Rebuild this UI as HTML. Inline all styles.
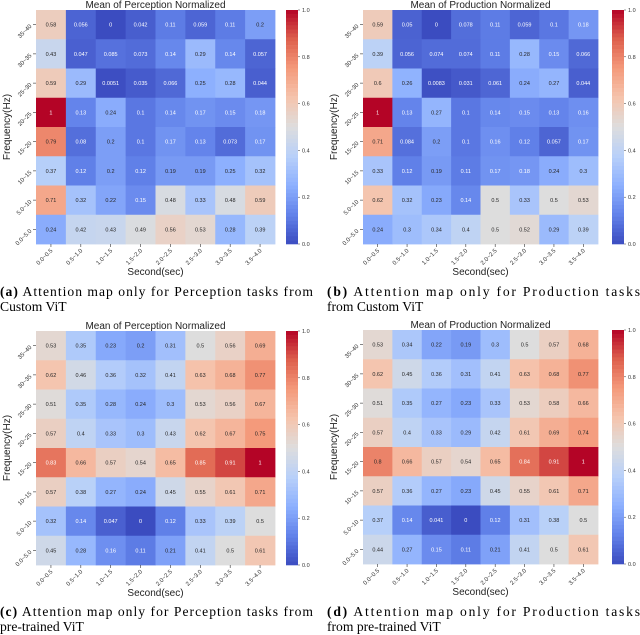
<!DOCTYPE html>
<html><head><meta charset="utf-8"><style>
body{margin:0;background:#fff;width:640px;height:635px;overflow:hidden}
svg{display:block}
.cap{font-family:"Liberation Serif",serif;font-size:13.6px;fill:#000}
</style></head><body>
<svg id="fig" width="640" height="635" xmlns="http://www.w3.org/2000/svg"></svg>
<script>
const xLabels=["0.0~0.5","0.5~1.0","1.0~1.5","1.5~2.0","2.0~2.5","2.5~3.0","3.0~3.5","3.5~4.0"];
const yLabels=["35~40","30~35","25~30","20~25","15~20","10~15","5.0~10","0.0~5.0"];
const cbTicks=[0,0.2,0.4,0.6,0.8,1.0];
const valsA=[[0.58,0.056,0,0.042,0.11,0.059,0.11,0.2],[0.43,0.047,0.085,0.073,0.14,0.29,0.14,0.057],[0.59,0.29,0.0051,0.035,0.066,0.25,0.28,0.044],[1,0.13,0.24,0.1,0.14,0.17,0.15,0.18],[0.79,0.08,0.2,0.1,0.17,0.13,0.073,0.17],[0.37,0.12,0.2,0.12,0.19,0.19,0.25,0.32],[0.71,0.32,0.22,0.15,0.48,0.33,0.48,0.59],[0.24,0.42,0.43,0.49,0.56,0.53,0.28,0.39]];
const valsB=[[0.59,0.05,0,0.078,0.11,0.059,0.1,0.18],[0.39,0.056,0.074,0.074,0.11,0.28,0.15,0.066],[0.6,0.26,0.0083,0.031,0.061,0.24,0.27,0.044],[1,0.13,0.27,0.1,0.14,0.15,0.13,0.16],[0.71,0.084,0.2,0.1,0.16,0.12,0.057,0.17],[0.33,0.12,0.19,0.11,0.17,0.18,0.24,0.3],[0.62,0.32,0.23,0.14,0.5,0.33,0.5,0.53],[0.24,0.3,0.34,0.4,0.5,0.52,0.29,0.39]];
const valsC=[[0.53,0.35,0.23,0.2,0.31,0.5,0.56,0.69],[0.62,0.46,0.36,0.32,0.41,0.63,0.68,0.77],[0.51,0.35,0.28,0.24,0.3,0.53,0.56,0.67],[0.57,0.4,0.33,0.3,0.43,0.62,0.67,0.75],[0.83,0.66,0.57,0.54,0.65,0.85,0.91,1],[0.57,0.38,0.27,0.24,0.45,0.55,0.61,0.71],[0.32,0.14,0.047,0,0.12,0.33,0.39,0.5],[0.45,0.28,0.16,0.11,0.21,0.41,0.5,0.61]];
const valsD=[[0.53,0.34,0.22,0.19,0.3,0.5,0.57,0.68],[0.62,0.45,0.36,0.31,0.41,0.63,0.68,0.77],[0.51,0.35,0.27,0.23,0.33,0.53,0.58,0.66],[0.57,0.4,0.33,0.29,0.42,0.61,0.69,0.74],[0.8,0.66,0.57,0.54,0.65,0.84,0.91,1],[0.57,0.36,0.27,0.23,0.45,0.55,0.61,0.71],[0.37,0.14,0.041,0,0.12,0.31,0.38,0.5],[0.44,0.27,0.15,0.11,0.21,0.41,0.5,0.61]];
const titles=["Mean of Perception Normalized","Mean of Production Normalized","Mean of Perception Normalized","Mean of Production Normalized"];

const NS="http://www.w3.org/2000/svg";
const svg=document.getElementById('fig');
const stops=[[59,76,192],[98,130,234],[141,176,254],[184,208,249],[221,221,221],[245,196,173],[244,154,123],[222,96,77],[180,4,38]];
function cmap(v){v=Math.max(0,Math.min(1,v));const p=v*8;const i=Math.min(7,Math.floor(p));const t=p-i;const a=stops[i],b=stops[i+1];
return [0,1,2].map(k=>Math.round(a[k]+(b[k]-a[k])*t));}
function mk(tag,attrs,parent){const e=document.createElementNS(NS,tag);for(const k in attrs)e.setAttribute(k,attrs[k]);(parent||svg).appendChild(e);return e;}

function heatmap(vals,title,L,R,T,B,cbx,key){
  const g=mk('g',{});
  
  
  const cw=(R-L)/xLabels.length,ch=(B-T)/yLabels.length;
  const xs=i=>L+i*cw, ys=j=>T+j*ch;
  const t=mk('text',{x:(L+R)/2,y:T-2,'text-anchor':'middle','font-family':'Liberation Sans,sans-serif','font-size':'10',fill:'#222'},g);
  t.textContent=title;
  
  
  vals.forEach((row,j)=>row.forEach((v,i)=>{
    const c=cmap(v);
    const r=mk('rect',{x:xs(i),y:ys(j),width:cw+0.4,height:ch+0.4,fill:`rgb(${c[0]},${c[1]},${c[2]})`},g);
    
    
    const lum=(0.299*c[0]+0.587*c[1]+0.114*c[2])/255;
    const tx=mk('text',{x:xs(i)+cw/2,y:ys(j)+ch/2+2,'text-anchor':'middle','font-family':'Liberation Sans,sans-serif','font-size':'5.5',fill:lum>0.6?'#262626':'#fff'},g);
    tx.textContent=String(v);
    
    
  }));
  xLabels.forEach((lb,i)=>{
    const x=xs(i)+cw/2;
    mk('line',{x1:x,y1:B,x2:x,y2:B+3,stroke:'#333','stroke-width':0.6},g);
    const tx=mk('text',{x:x+2,y:B+7,'text-anchor':'end','font-family':'Liberation Sans,sans-serif','font-size':'6',fill:'#333',transform:`rotate(-45 ${x+2} ${B+7})`},g);
    tx.textContent=lb;
    
    
  });
  yLabels.forEach((lb,j)=>{
    const y=ys(j)+ch/2;
    mk('line',{x1:L-3,y1:y,x2:L,y2:y,stroke:'#333','stroke-width':0.6},g);
    const tx=mk('text',{x:L-4,y:y+2,'text-anchor':'end','font-family':'Liberation Sans,sans-serif','font-size':'6',fill:'#333',transform:`rotate(-45 ${L-4} ${y+2})`},g);
    tx.textContent=lb;
    
    
  });
  const xt=mk('text',{x:(L+R)/2,y:B+31,'text-anchor':'middle','font-family':'Liberation Sans,sans-serif','font-size':'10',fill:'#222'},g);
  xt.textContent='Second(sec)';
  
  
  const yx=L-26,yy=(T+B)/2;
  const yt=mk('text',{x:yx,y:yy,'text-anchor':'middle','font-family':'Liberation Sans,sans-serif','font-size':'10',fill:'#222',transform:`rotate(-90 ${yx} ${yy})`},g);
  yt.textContent='Frequency(Hz)';
  
  
  // colorbar
  const cb=mk('g',{},g);
  
  
  const n=60,h=(B-T)/n;
  for(let k=0;k<n;k++){const c=cmap(1-(k+0.5)/n);mk('rect',{x:cbx,y:T+k*h,width:12,height:h+0.3,fill:`rgb(${c[0]},${c[1]},${c[2]})`},cb);}
  cbTicks.forEach(v=>{
    const y=B-v*(B-T);
    mk('line',{x1:cbx+12,y1:y,x2:cbx+14,y2:y,stroke:'#333','stroke-width':0.5},cb);
    const tx=mk('text',{x:cbx+16,y:y+2,'font-family':'Liberation Sans,sans-serif','font-size':'5.5',fill:'#333'},cb);
    tx.textContent=v.toFixed(1);
    
    
  });
}
heatmap(valsA,titles[0],36,275,10,244,286,'a');
heatmap(valsB,titles[1],363,598,10,244,612,'b');
heatmap(valsC,titles[2],36,275,331,565,286,'c');
heatmap(valsD,titles[3],363,598,330,564,612,'d');

const caps=[[0,296,'(a)',' Attention map only for Perception tasks from'],[0,311,'','Custom ViT'],
[327,296,'(b)',' Attention map only for Production tasks'],[327,311,'','from Custom ViT'],
[0,616,'(c)',' Attention map only for Perception tasks from'],[0,631,'','pre-trained ViT'],
[327,616,'(d)',' Attention map only for Production tasks'],[327,631,'','from pre-trained ViT']];
caps.forEach(c=>{
  const t=mk('text',{x:c[0],y:c[1],class:'cap',textLength:c[2]?313:null});
  if(!c[2])t.removeAttribute('textLength');
  
  
  if(c[2]){const b=mk('tspan',{'font-weight':'bold'},t);b.textContent=c[2];}
  const s=mk('tspan',{},t);s.textContent=c[3];
});
</script>
</body></html>
